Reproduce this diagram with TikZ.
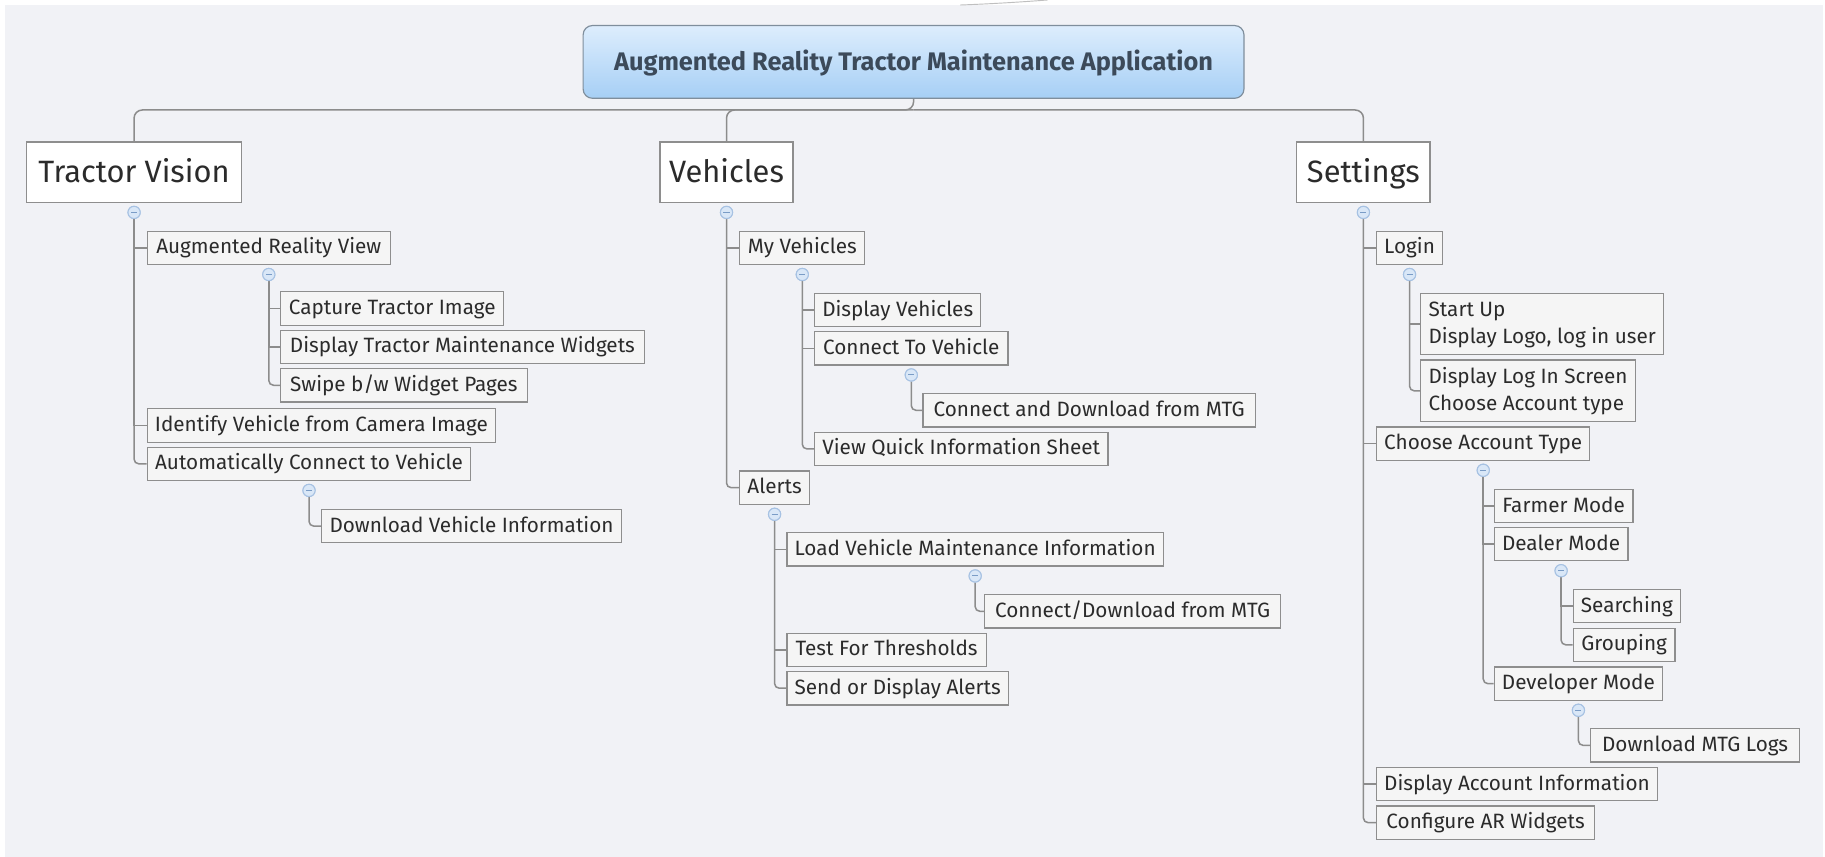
\documentclass[tikz,border=0pt]{standalone}
\usepackage{fontspec}
\setmainfont{Fira Sans}
\definecolor{bgcol}{HTML}{F1F2F6}
\definecolor{linecol}{HTML}{8C8C8C}
\definecolor{boxline}{HTML}{8E8E8E}
\definecolor{boxfill}{HTML}{F5F5F5}
\definecolor{txtcol}{HTML}{2B2B2B}
\definecolor{roottxt}{HTML}{3C4A5A}
\definecolor{rootline}{HTML}{7F8E9C}
\definecolor{roottop}{HTML}{DDEDFD}
\definecolor{rootbot}{HTML}{A6CFF5}
\definecolor{collline}{HTML}{A7C2E3}
\definecolor{collfill}{HTML}{D9E7F7}
\definecolor{collminus}{HTML}{7A9CC6}
\tikzset{
  conn/.style={draw=linecol, line width=1.3pt},
  rootbox/.style={draw=rootline, line width=1pt, rounded corners=8pt, top color=roottop, bottom color=rootbot,
    minimum width=567.8pt, minimum height=62.5pt, inner sep=0pt, text=roottxt, text height=18.3pt, text depth=4pt,
    font=\fontsize{21.8}{25}\selectfont\bfseries},
  topbox/.style={draw=boxline, line width=1pt, fill=white, minimum height=52pt, inner sep=0pt, text=txtcol,
    text height=21.5pt, text depth=4pt, font=\fontsize{26.5}{30}\selectfont},
  sub/.style={anchor=west, draw=boxline, line width=1pt, fill=boxfill, minimum height=28.7pt, inner xsep=6.6pt,
    inner ysep=0pt, text=txtcol, text height=13.8pt, text depth=3.4pt, font=\fontsize{17.8}{21}\selectfont},
  subtwo/.style={sub, minimum height=53pt, align=left, text height=37.3pt, text depth=3.4pt,
    font=\fontsize{17.8}{23.5}\selectfont},
  coll/.style={circle, draw=collline, fill=collfill, line width=0.9pt, minimum size=10.5pt, inner sep=0pt,
    path picture={\draw[collminus, line width=0.9pt] ([xshift=-2.6pt]path picture bounding box.center) -- ([xshift=2.6pt]path picture bounding box.center);}},
}
\begin{document}
\begin{tikzpicture}[x=1pt, y=-1pt]
\useasboundingbox (0,0) rectangle (1568,736);
\fill[white] (0,0) rectangle (1568,736);
\fill[bgcol] (4.3,4.3) rectangle (1566,736);
\draw[black!25, line width=0.8pt] (825,4.3) .. controls (855,3.2) and (880,1.5) .. (900,0);

% root and top level
\node[rootbox] (root) at (784.9,53.2) {Augmented Reality Tractor Maintenance Application};
\node[topbox, minimum width=184.8pt] (tv) at (115.2,148) {Tractor Vision};
\node[topbox, minimum width=114.3pt] (veh) at (624.2,148) {Vehicles};
\node[topbox, minimum width=114.4pt] (set) at (1171.4,148) {Settings};
\coordinate (bus) at (784.9,94.5);
\draw[conn, rounded corners=7pt] (root.south) -- (bus) -| (tv.north);
\draw[conn, rounded corners=7pt] (bus) -| (veh.north);
\draw[conn, rounded corners=7pt] (bus) -| (set.north);

% Tractor Vision subtree
\node[sub, minimum width=208.9pt] (ar) at (126,213) {Augmented Reality View};
\node[sub, minimum width=191.8pt] (cti) at (240.6,265) {Capture Tractor Image};
\node[sub, minimum width=312.4pt] (dtmw) at (240.6,298) {Display Tractor Maintenance Widgets};
\node[sub, minimum width=211.8pt] (swp) at (240.6,331) {Swipe b/w Widget Pages};
\node[sub, minimum width=298.3pt] (ivc) at (126,365.5) {Identify Vehicle from Camera Image};
\node[sub, minimum width=278pt] (acv) at (126,398.5) {Automatically Connect to Vehicle};
\node[sub, minimum width=257pt] (dvi) at (276,452) {Download Vehicle Information};

% Vehicles subtree
\node[sub, minimum width=107.6pt] (myv) at (635,213) {My Vehicles};
\node[sub, minimum width=142pt] (dv) at (699.4,266.3) {Display Vehicles};
\node[sub, minimum width=166.1pt] (ctv) at (699.4,299.3) {Connect To Vehicle};
\node[sub, minimum width=285.5pt] (cdm) at (792.5,352.5) {Connect and Download from MTG};
\node[sub, minimum width=252pt] (vqis) at (699.4,385.7) {View Quick Information Sheet};
\node[sub, minimum width=60pt] (alerts) at (635,419) {Alerts};
\node[sub, minimum width=320pt] (lvmi) at (675.6,472) {Load Vehicle Maintenance Information};
\node[sub, minimum width=253.8pt] (cdm2) at (845.7,525.2) {Connect/Download from MTG};
\node[sub, minimum width=171.3pt] (tft) at (675.6,558.4) {Test For Thresholds};
\node[sub, minimum width=189.9pt] (sda) at (675.6,591.3) {Send or Display Alerts};

% Settings subtree
\node[sub, minimum width=56.4pt] (login) at (1182.2,213) {Login};
\node[subtwo, minimum width=207.9pt] (su) at (1220.3,278.4) {Start Up\\Display Logo, log in user};
\node[subtwo, minimum width=183pt] (dls) at (1220.3,335.8) {Display Log In Screen\\Choose Account type};
\node[sub, minimum width=183.1pt] (cat) at (1182.2,381.2) {Choose Account Type};
\node[sub, minimum width=119.2pt] (fm) at (1283.3,434.7) {Farmer Mode};
\node[sub, minimum width=114.9pt] (dmode) at (1283.3,467.5) {Dealer Mode};
\node[sub, minimum width=90.8pt] (srch) at (1351.2,520.8) {Searching};
\node[sub, minimum width=87.4pt] (grp) at (1351.2,554) {Grouping};
\node[sub, minimum width=143.5pt] (dev) at (1283.3,587.4) {Developer Mode};
\node[sub, minimum width=179.6pt] (dml) at (1366.1,640.4) {Download MTG Logs};
\node[sub, minimum width=239.2pt] (dai) at (1182.2,673.6) {Display Account Information};
\node[sub, minimum width=187.3pt] (cfg) at (1182.2,706.8) {Configure AR Widgets};

% collapse markers
\foreach \p in {tv,veh,set,ar,acv,myv,ctv,alerts,lvmi,login,cat,dmode,dev}{
  \node[coll] (k-\p) at ([yshift=-8pt]\p.south) {};
}

% connectors: middle children
\foreach \a/\b in {tv/ar, tv/ivc, ar/cti, ar/dtmw, veh/myv, myv/dv, myv/ctv, alerts/lvmi, alerts/tft,
  set/login, set/cat, set/dai, login/su, cat/fm, cat/dmode, dmode/srch}{
  \draw[conn] (k-\a.south) |- (\b.west);
}
% connectors: last children
\foreach \a/\b in {tv/acv, ar/swp, acv/dvi, veh/alerts, myv/vqis, ctv/cdm, alerts/sda, lvmi/cdm2,
  set/cfg, login/dls, cat/dev, dmode/grp, dev/dml}{
  \draw[conn, rounded corners=4pt] (k-\a.south) |- (\b.west);
}
% redraw markers on top
\foreach \p in {tv,veh,set,ar,acv,myv,ctv,alerts,lvmi,login,cat,dmode,dev}{
  \node[coll] at (k-\p) {};
}
\end{tikzpicture}
\end{document}
